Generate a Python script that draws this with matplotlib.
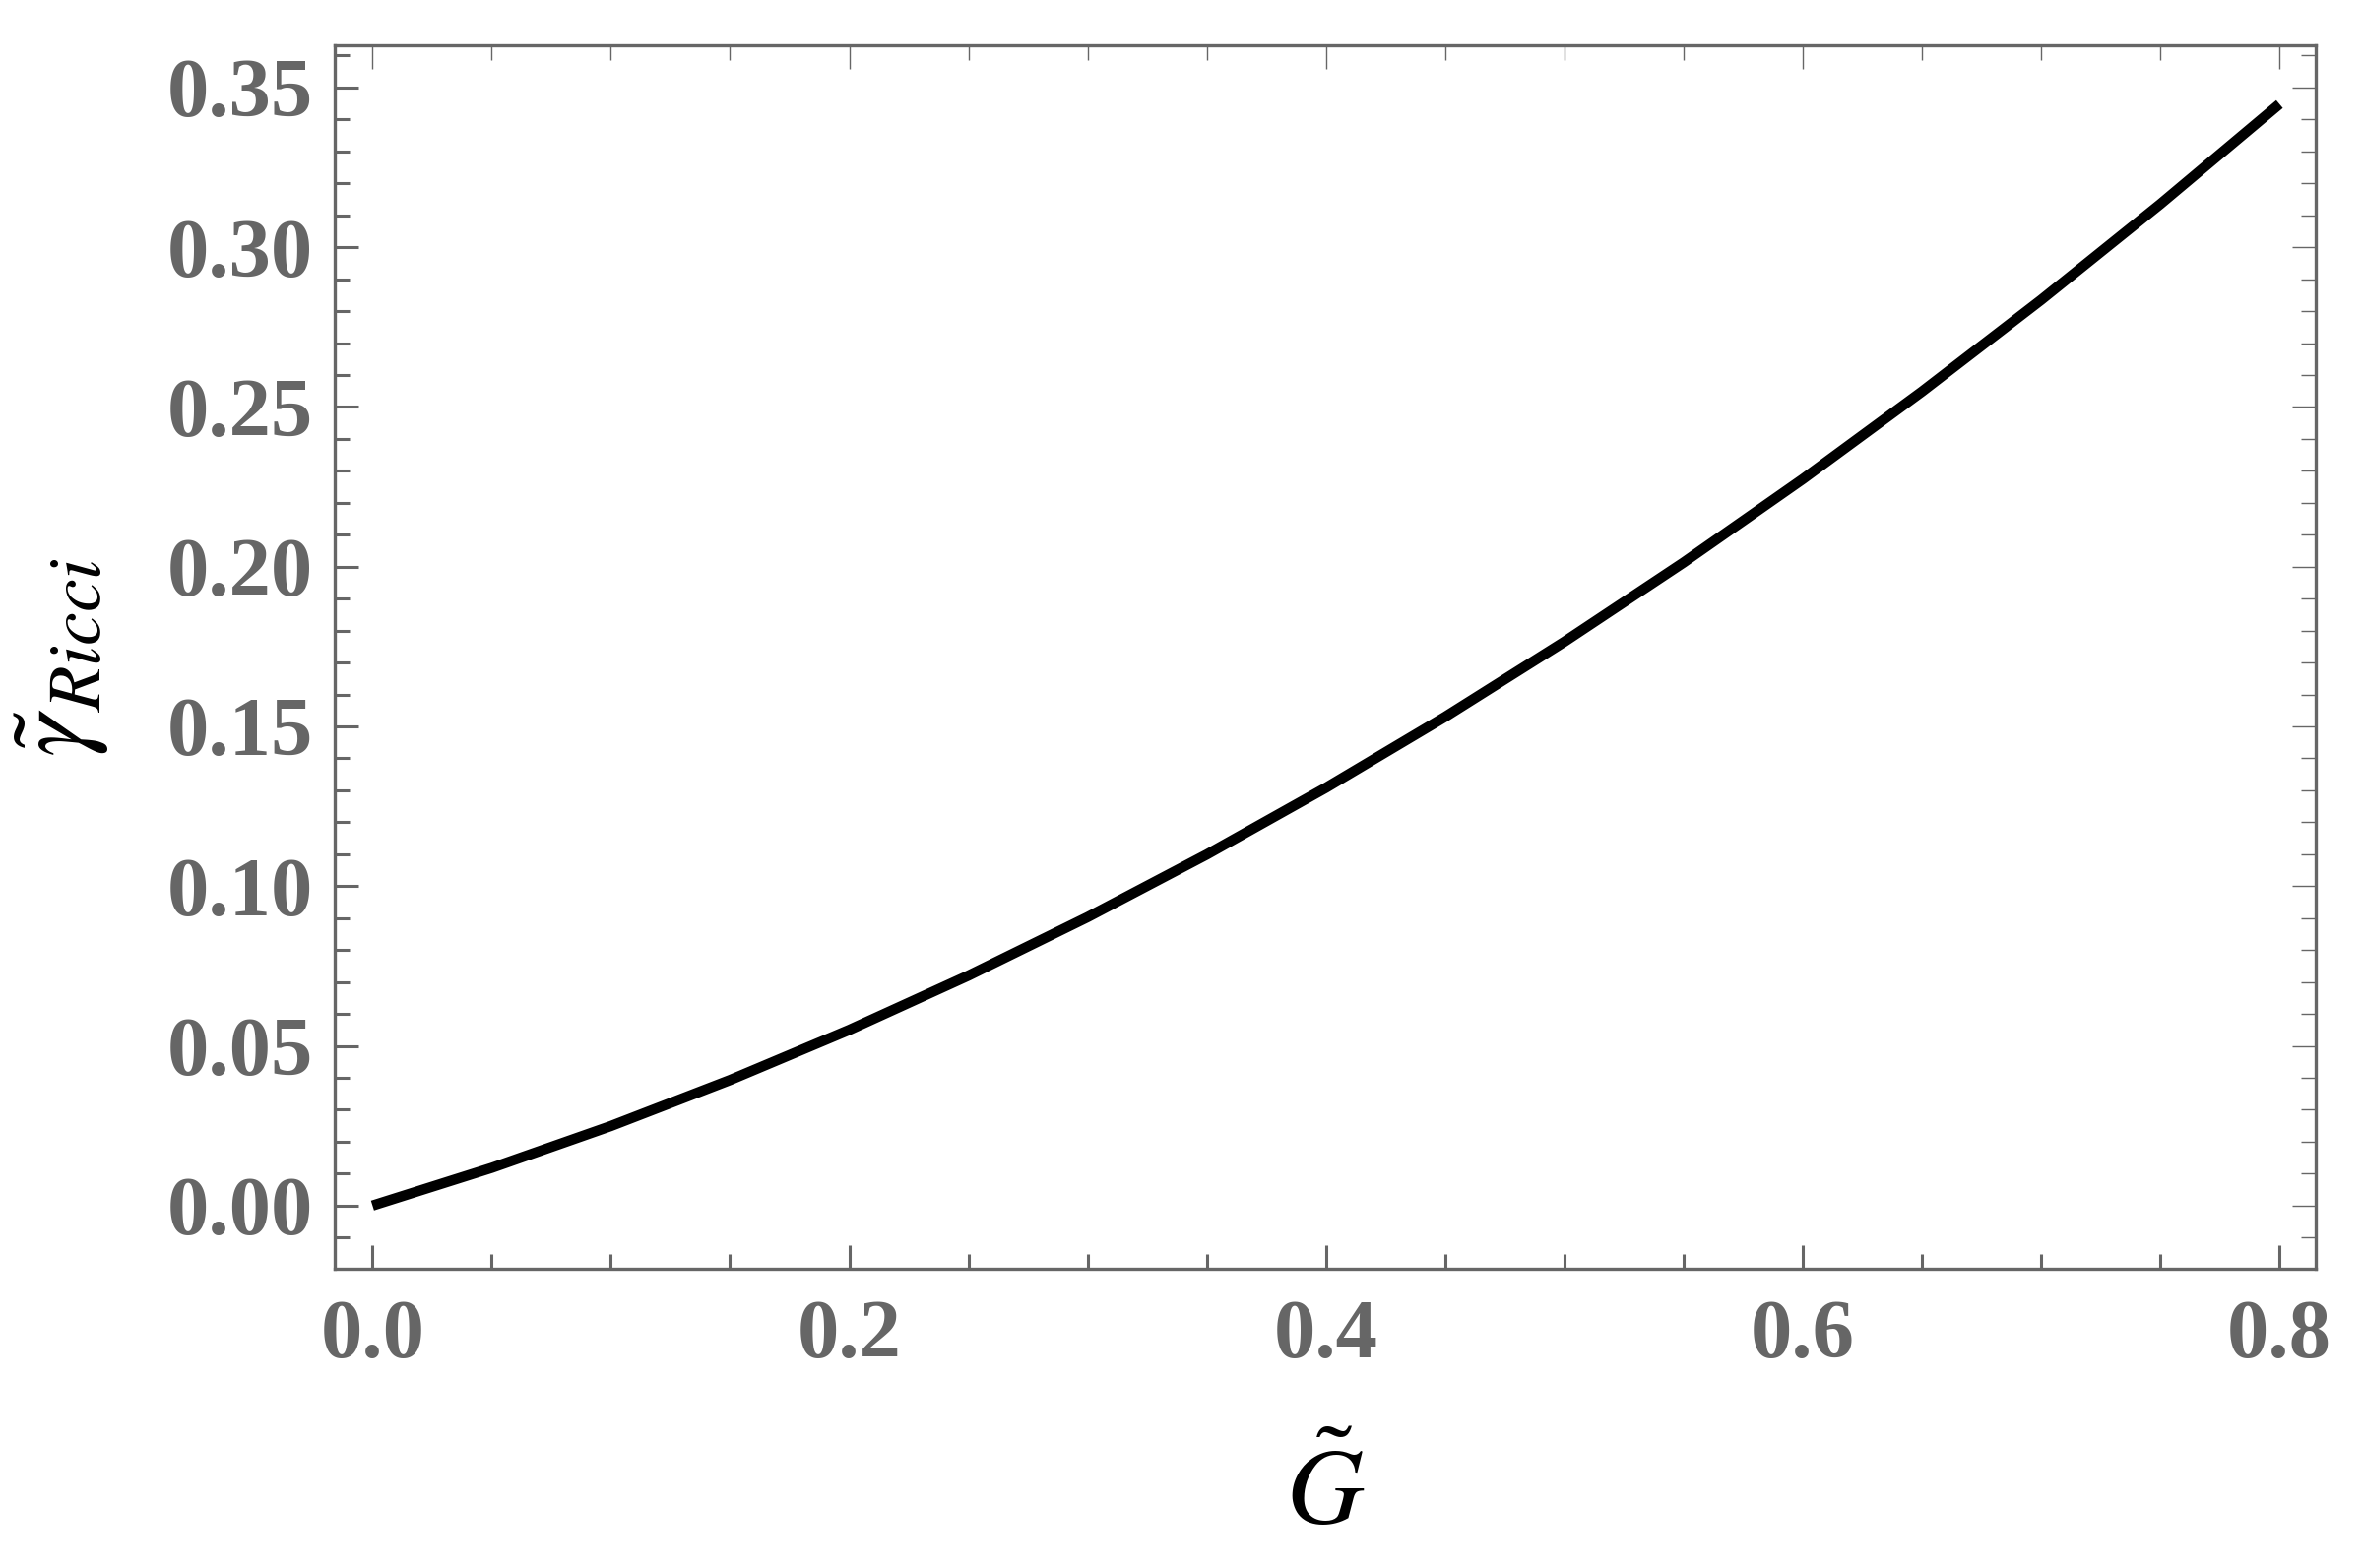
import matplotlib
matplotlib.use("Agg")
import matplotlib.pyplot as plt
from matplotlib.ticker import MultipleLocator, FormatStrFormatter

# values
g_tilde = [0.00, 0.05, 0.10, 0.15, 0.20, 0.25, 0.30, 0.35, 0.40,
           0.45, 0.50, 0.55, 0.60, 0.65, 0.70, 0.75, 0.80]
gamma_ricci = [0.0000, 0.0118, 0.0249, 0.0393, 0.0550, 0.0720, 0.0903, 0.1099, 0.1308,
               0.1530, 0.1765, 0.2013, 0.2274, 0.2548, 0.2835, 0.3135, 0.3448]

x_ticks = [0.0, 0.2, 0.4, 0.6, 0.8]
y_ticks = [0.00, 0.05, 0.10, 0.15, 0.20, 0.25, 0.30, 0.35]

frame_col = '#666666'
plt.rcParams['mathtext.fontset'] = 'stix'

fig = plt.figure(figsize=(24, 15.93), dpi=100)
ax = fig.add_axes([0.1417, 0.1908, 0.98 - 0.1417, 0.9711 - 0.1908])

ax.plot(g_tilde, gamma_ricci, color='black', lw=7.5, solid_capstyle='butt', solid_joinstyle='round')

ax.set_xlim(-0.0158, 0.8152)
ax.set_ylim(-0.0198, 0.3632)

ax.set_xticks(x_ticks)
ax.set_yticks(y_ticks)
ax.xaxis.set_minor_locator(MultipleLocator(0.05))
ax.yaxis.set_minor_locator(MultipleLocator(0.01))
ax.xaxis.set_major_formatter(FormatStrFormatter('%.1f'))
ax.yaxis.set_major_formatter(FormatStrFormatter('%.2f'))

for s in ax.spines.values():
    s.set_color(frame_col)
    s.set_linewidth(2.4)

ax.tick_params(which='both', direction='in', top=True, right=True, colors=frame_col)
ax.tick_params(which='major', length=17, width=2.2)
ax.tick_params(which='minor', length=11, width=2.2)
ax.tick_params(axis='x', which='major', pad=22)
ax.tick_params(axis='y', which='major', pad=16)
ax.tick_params(axis='both', which='both', labelsize=61)
for lab in ax.get_xticklabels() + ax.get_yticklabels():
    lab.set_fontfamily('Liberation Serif')
    lab.set_fontweight('bold')
    lab.set_color(frame_col)

# thinner ticks on top and right
for t in ax.xaxis.get_major_ticks() + ax.xaxis.get_minor_ticks():
    t.tick2line.set_markeredgewidth(1.0)
for t in ax.yaxis.get_major_ticks() + ax.yaxis.get_minor_ticks():
    t.tick2line.set_markeredgewidth(1.0)

ax.set_xlabel(r'$\tilde{G}$', fontsize=78, va='baseline')
ax.set_ylabel(r'$\tilde{\gamma}_{Ricci}$', fontsize=78, va='center')
ax.xaxis.set_label_coords(0.5, -0.208)
ax.yaxis.set_label_coords(-0.139, 0.5)

fig.savefig('out.png', dpi=100)
